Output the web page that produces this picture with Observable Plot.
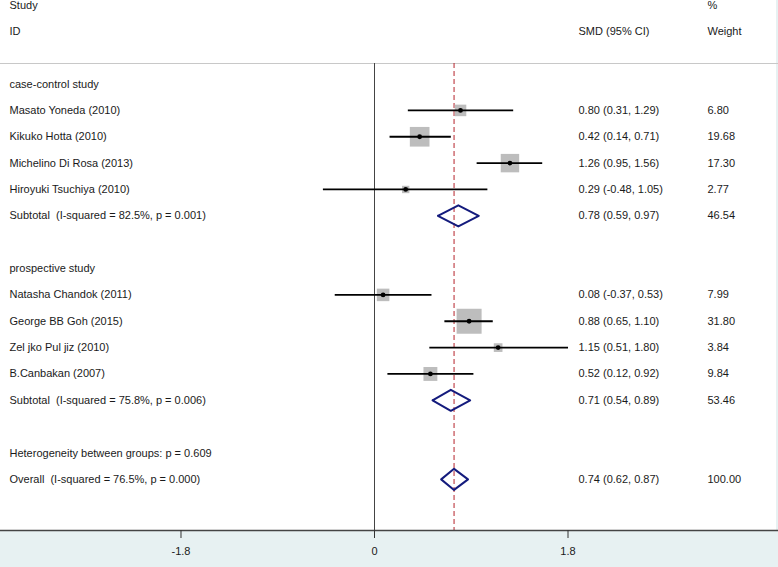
<!DOCTYPE html>
<html>
<head>
<meta charset="utf-8">
<script src="https://cdn.jsdelivr.net/npm/d3@7"></script>
<script src="https://cdn.jsdelivr.net/npm/@observablehq/plot@0.6"></script>
<style>
  html, body { margin: 0; padding: 0; background: #fff; }
  svg text { white-space: pre; }
</style>
</head>
<body>
<div id="chart"></div>
<script>
// ---- data ----
const groupNames = ["case-control study", "prospective study"];
const studyNames = [
  "Masato Yoneda (2010)", "Kikuko Hotta (2010)", "Michelino Di Rosa (2013)", "Hiroyuki Tsuchiya (2010)",
  "Natasha Chandok (2011)", "George BB Goh (2015)", "Zel jko Pul jiz (2010)", "B.Canbakan (2007)"
];
const studyGroup = [0, 0, 0, 0, 1, 1, 1, 1];
const studyEst = [0.80, 0.42, 1.26, 0.29, 0.08, 0.88, 1.15, 0.52];
const studyLo  = [0.31, 0.14, 0.95, -0.48, -0.37, 0.65, 0.51, 0.12];
const studyHi  = [1.29, 0.71, 1.56, 1.05, 0.53, 1.10, 1.80, 0.92];
const studyWeight = [6.80, 19.68, 17.30, 2.77, 7.99, 31.80, 3.84, 9.84];

const subtotalLabels = ["Subtotal  (I-squared = 82.5%, p = 0.001)", "Subtotal  (I-squared = 75.8%, p = 0.006)"];
const subtotalEst = [0.78, 0.71];
const subtotalLo  = [0.59, 0.54];
const subtotalHi  = [0.97, 0.89];
const subtotalWeight = [46.54, 53.46];

const heterogeneityLabel = "Heterogeneity between groups: p = 0.609";
const overallLabel = "Overall  (I-squared = 76.5%, p = 0.000)";
const overallEst = 0.74, overallLo = 0.62, overallHi = 0.87, overallWeight = 100.00;

const headerStudy = ["Study", "ID"];
const headerSmd = ["", "SMD (95% CI)"];
const headerWeight = ["%", "Weight"];
const xTicks = [-1.8, 0, 1.8];

// ---- layout rows ----
const fmt = (e, l, h) => `${e.toFixed(2)} (${l.toFixed(2)}, ${h.toFixed(2)})`;
const textRows = [];
const studyRows = [];
const pooledRows = [];
let row = 0;
groupNames.forEach((g, gi) => {
  textRows.push({row, label: g, smd: "", weight: ""});
  row++;
  studyNames.forEach((name, i) => {
    if (studyGroup[i] !== gi) return;
    studyRows.push({row, est: studyEst[i], lo: studyLo[i], hi: studyHi[i], w: studyWeight[i]});
    textRows.push({row, label: name, smd: fmt(studyEst[i], studyLo[i], studyHi[i]), weight: studyWeight[i].toFixed(2)});
    row++;
  });
  pooledRows.push({row, est: subtotalEst[gi], lo: subtotalLo[gi], hi: subtotalHi[gi]});
  textRows.push({row, label: subtotalLabels[gi], smd: fmt(subtotalEst[gi], subtotalLo[gi], subtotalHi[gi]), weight: subtotalWeight[gi].toFixed(2)});
  row += 2;
});
textRows.push({row, label: heterogeneityLabel, smd: "", weight: ""});
row++;
pooledRows.push({row, est: overallEst, lo: overallLo, hi: overallHi});
textRows.push({row, label: overallLabel, smd: fmt(overallEst, overallLo, overallHi), weight: overallWeight.toFixed(2)});

const headerRows = headerStudy.map((s, i) => ({row: i - 3, label: s, smd: headerSmd[i], weight: headerWeight[i]}));

const half = 0.4;
const diamondPts = pooledRows.flatMap((p, k) => [
  {k, x: p.lo, y: p.row}, {k, x: p.est, y: p.row - half},
  {k, x: p.hi, y: p.row}, {k, x: p.est, y: p.row + half}, {k, x: p.lo, y: p.row}
]);

const yDomain = [-0.78, 16.94];
const xDomain = [-3.479, 3.758];

const chart = Plot.plot({
  width: 778,
  height: 567,
  marginTop: 63,
  marginBottom: 37,
  marginLeft: 0,
  marginRight: 0,
  style: {
    fontFamily: "'Liberation Sans', Arial, sans-serif",
    fontSize: "11px",
    color: "#1a1a1a",
    background: "linear-gradient(to right, rgba(0,0,0,0) 776px, #e7f1f2 776px), linear-gradient(to bottom, #ffffff 531px, #e7f1f2 531px)"
  },
  x: {domain: xDomain, axis: null},
  y: {domain: yDomain, reverse: true, axis: null},
  r: {type: "sqrt", domain: [0, 100], range: [0, 25]},
  marks: [
    Plot.ruleY([yDomain[0]], {stroke: "#c8c8c8", strokeWidth: 1}),
    Plot.ruleX([0], {stroke: "#444", strokeWidth: 1}),
    Plot.ruleX([overallEst], {stroke: "#b5232b", strokeWidth: 1, strokeDasharray: "5,3"}),
    Plot.dot(studyRows, {x: "est", y: "row", r: "w", symbol: "square", fill: "#bdbdbd", stroke: "none"}),
    Plot.link(studyRows, {x1: "lo", x2: "hi", y1: "row", y2: "row", stroke: "#000", strokeWidth: 1.8}),
    Plot.dot(studyRows, {x: "est", y: "row", r: 2.4, fill: "#000", stroke: "none"}),
    Plot.line(diamondPts, {x: "x", y: "y", z: "k", stroke: "#141b7d", strokeWidth: 2, fill: "none", curve: "linear"}),
    Plot.text(textRows, {y: "row", text: "label", frameAnchor: "left", dx: 9, textAnchor: "start", fill: "#1a1a1a"}),
    Plot.text(textRows, {y: "row", text: "smd", frameAnchor: "left", dx: 578, textAnchor: "start", fill: "#1a1a1a"}),
    Plot.text(textRows, {y: "row", text: "weight", frameAnchor: "left", dx: 707, textAnchor: "start", fill: "#1a1a1a"}),
    Plot.text(headerRows, {y: "row", text: "label", frameAnchor: "left", dx: 9, textAnchor: "start", fill: "#1a1a1a"}),
    Plot.text(headerRows, {y: "row", text: "smd", frameAnchor: "left", dx: 578, textAnchor: "start", fill: "#1a1a1a"}),
    Plot.text(headerRows, {y: "row", text: "weight", frameAnchor: "left", dx: 707, textAnchor: "start", fill: "#1a1a1a"}),
    Plot.ruleY([yDomain[1]], {stroke: "#444", strokeWidth: 1.5}),
    Plot.axisX({ticks: xTicks, tickSize: 8, tickPadding: 9, tickFormat: d => String(d), label: null, stroke: "#333", fill: "#1a1a1a"})
  ]
});
document.getElementById("chart").appendChild(chart);
</script>
</body>
</html>
